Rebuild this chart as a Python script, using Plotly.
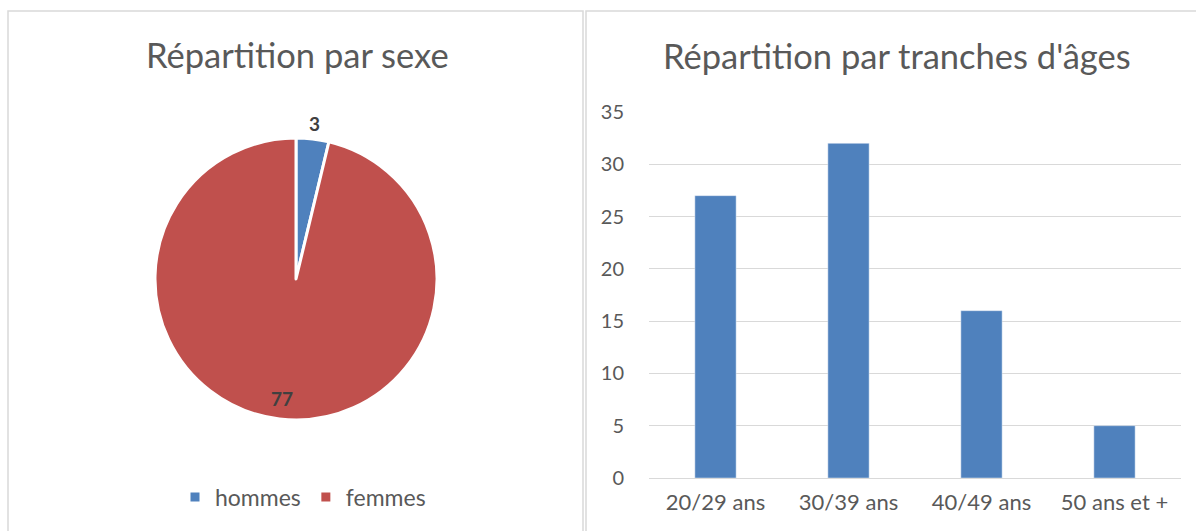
import math
import plotly.graph_objects as go

W, H = 1196, 531

sexe_labels = ["hommes", "femmes"]
sexe_values = [3, 77]
sexe_colors = ["#4F81BD", "#C0504D"]

age_labels = ["20/29 ans", "30/39 ans", "40/49 ans", "50 ans et +"]
age_values = [27, 32, 16, 5]
y_ticks = [0, 5, 10, 15, 20, 25, 30, 35]

FONT = "Lato"
GRAY = "#595959"


def px(x):
    return x / W


def py(y):
    return 1 - y / H


# pie geometry (pixels)
PIE_CX, PIE_CY, PIE_R = 296, 279, 141
label_radius = [1.11, 0.85]  # outside for the small slice, inside for the large one

fig = go.Figure()

fig.add_trace(go.Pie(
    labels=sexe_labels,
    values=sexe_values,
    sort=False,
    direction="clockwise",
    rotation=0,
    marker=dict(colors=sexe_colors, line=dict(color="white", width=3)),
    textinfo="none",
    domain=dict(x=[px(PIE_CX - PIE_R), px(PIE_CX + PIE_R)],
                y=[py(PIE_CY + PIE_R), py(PIE_CY - PIE_R)]),
    showlegend=True,
    hoverinfo="label+value",
))

# data labels for the pie, placed at each slice's mid-angle
annotations = []
total = sum(sexe_values)
cum = 0
for v, k in zip(sexe_values, label_radius):
    mid = (cum + v / 2) / total * 2 * math.pi
    cum += v
    lx = PIE_CX + PIE_R * k * math.sin(mid)
    ly = PIE_CY - PIE_R * k * math.cos(mid)
    annotations.append(dict(
        text=f"<b>{v}</b>", x=px(lx), y=py(ly), xref="paper", yref="paper",
        showarrow=False, xanchor="center", yanchor="middle",
        font=dict(family=FONT, size=19, color="#404040"),
    ))

fig.add_trace(go.Bar(
    x=age_labels,
    y=age_values,
    marker=dict(color="#4F81BD"),
    width=0.31,
    showlegend=False,
    xaxis="x",
    yaxis="y",
))

annotations += [
    dict(text="Répartition par sexe", x=px(297), y=py(55), xref="paper", yref="paper",
         showarrow=False, xanchor="center", yanchor="middle",
         font=dict(family=FONT, size=34.5, color=GRAY)),
    dict(text="Répartition par tranches d'âges", x=px(897), y=py(56), xref="paper", yref="paper",
         showarrow=False, xanchor="center", yanchor="middle",
         font=dict(family=FONT, size=34.5, color=GRAY)),
]

fig.update_layout(
    width=W,
    height=H,
    margin=dict(l=0, r=0, t=0, b=0, pad=0, autoexpand=False),
    paper_bgcolor="white",
    plot_bgcolor="white",
    font=dict(family=FONT, color=GRAY),
    xaxis=dict(
        domain=[px(649), px(1181)],
        anchor="y",
        showgrid=False,
        showline=False,
        ticks="",
        tickfont=dict(size=22, color=GRAY),
        ticklabelstandoff=9,
        fixedrange=True,
    ),
    yaxis=dict(
        domain=[py(478), py(112)],
        anchor="x",
        range=[0, 35],
        tickvals=y_ticks,
        showgrid=True,
        gridcolor="#D9D9D9",
        gridwidth=1.3,
        zeroline=True,
        zerolinecolor="#D9D9D9",
        zerolinewidth=1.3,
        showline=False,
        ticks="",
        tickfont=dict(size=20, color=GRAY),
        ticklabelstandoff=24,
        fixedrange=True,
    ),
    legend=dict(
        orientation="h",
        x=px(303),
        xanchor="center",
        y=py(497),
        yanchor="middle",
        font=dict(size=23, color=GRAY, family=FONT),
        itemwidth=30,
        traceorder="normal",
    ),
    annotations=annotations,
    shapes=[
        dict(type="rect", xref="paper", yref="paper", x0=px(8), x1=px(583), y0=py(560), y1=py(11),
             line=dict(color="#D9D9D9", width=1.5), layer="below"),
        dict(type="rect", xref="paper", yref="paper", x0=px(586), x1=px(1230), y0=py(560), y1=py(11),
             line=dict(color="#D9D9D9", width=1.5), layer="below"),
    ],
)

fig.write_html(
    "out.html",
    config={"displayModeBar": False},
    post_script=(
        "document.documentElement.style.margin='0';"
        "document.body.style.margin='0';"
        "document.body.style.overflow='hidden';"
        "var d=document.getElementById('{plot_id}');"
        "d.style.position='fixed';d.style.top='0px';d.style.left='0px';"
    ),
)
